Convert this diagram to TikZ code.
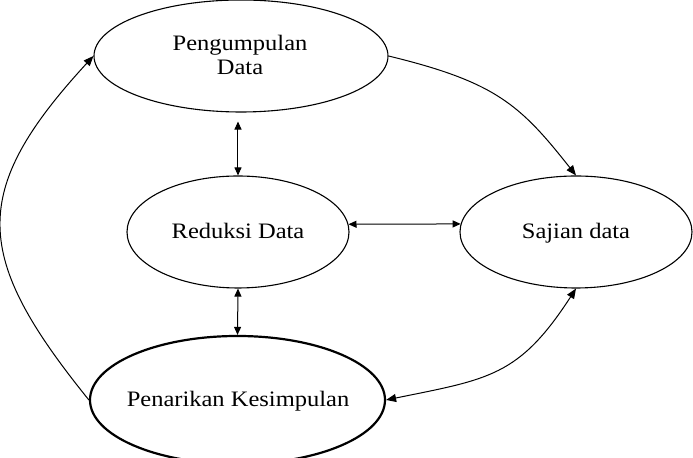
\documentclass[tikz,border=0pt]{standalone}
\usepackage{fontspec}
\setmainfont{Liberation Serif}
\usepackage{graphicx}
\usetikzlibrary{shapes.geometric,arrows.meta}
\newcommand\vsq[1]{\scalebox{1}[0.9]{#1}}
\begin{document}
\begin{tikzpicture}[x=0.5pt,y=-0.5pt,
  ell/.style={draw, ellipse, inner sep=0pt, line width=0.55pt},
  lbl/.style={inner sep=0pt, anchor=base, font=\fontsize{12.25}{12.25}\selectfont},
  dbl/.style={{Triangle[length=4pt,width=3.5pt]}-{Triangle[length=4pt,width=3.5pt]}, line width=0.5pt},
  dblc/.style={{Triangle[length=5pt,width=4pt]}-{Triangle[length=5pt,width=4pt]}, line width=0.5pt},
  crv/.style={-{Triangle[length=5pt,width=4pt]}, line width=0.5pt}]
\useasboundingbox (0,0) rectangle (693,458);
% ellipses
\node[ell, minimum width=147pt, minimum height=56pt] (pd) at (241,56) {};
\node[ell, minimum width=111pt, minimum height=56pt] (rd) at (238,232) {};
\node[ell, minimum width=116pt, minimum height=56pt] (sd) at (576,232) {};
\node[ell, line width=1.1pt, minimum width=147.5pt, minimum height=64pt] (pk) at (237.5,400) {};
% labels
\node[lbl] (t1) at (240,51) {\vsq{Pengumpulan}};
\node[lbl] (t2) at (240,75) {\vsq{Data}};
\node[lbl] (t3) at (238,239) {\vsq{Reduksi Data}};
\node[lbl] (t4) at (576,239) {\vsq{Sajian data}};
\node[lbl] (t5) at (238,407) {\vsq{Penarikan Kesimpulan}};
% connectors
\draw[dbl, shorten >=4.5pt] (rd.north) -- (rd.north |- pd.south);
\draw[dbl] (rd.south) -- (pk.north);
\draw[dbl] (rd.4) -- (sd.176);
\draw[crv] (pd.east) .. controls +(107,26) and +(-56,-71) .. (sd.north);
\draw[dblc] (pk.east) .. controls +(103,-21) and +(-57,88) .. (sd.south);
\draw[crv] (pk.west) .. controls +(-116,-143.5) and +(-125,136) .. (pd.west);
\end{tikzpicture}
\end{document}
